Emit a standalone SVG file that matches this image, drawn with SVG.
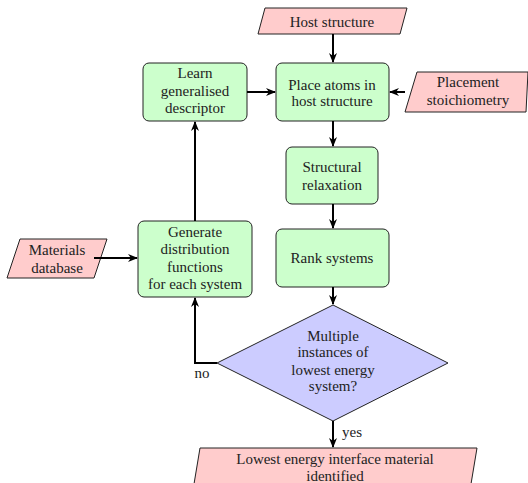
<svg xmlns="http://www.w3.org/2000/svg" width="528" height="483" viewBox="0 0 528 483" font-family="Liberation Serif, DejaVu Serif, serif">
<style>
.g{fill:#ccffcc;stroke:#222;stroke-width:1}
.r{fill:#ffcccc;stroke:#222;stroke-width:1}
.b{fill:#ccccff;stroke:#222;stroke-width:1}
text{font-size:15px;fill:#222;text-anchor:middle}
.c{fill:none;stroke:#000;stroke-width:2}
</style>
<defs>
<marker id="a" viewBox="0 0 10 10" refX="9" refY="5" markerWidth="5" markerHeight="5" orient="auto" markerUnits="strokeWidth">
<path d="M0,1 L10,5 L0,9 L3,5 Z" fill="#000"/>
</marker>
</defs>
<g id="host"><polygon class="r" points="265,8 407,8 400,34 258,34"/><text x="332" y="27">Host structure</text></g>
<g id="place"><rect class="g" x="276" y="63" width="113" height="58" rx="6"/><text x="332" y="90">Place atoms in</text><text x="332" y="106">host structure</text></g>
<g id="learn"><rect class="g" x="143" y="63" width="104" height="58" rx="6"/><text x="195" y="78">Learn</text><text x="195" y="96">generalised</text><text x="195" y="113">descriptor</text></g>
<g id="placement"><polygon class="r" points="417,72 528,72 526,112 405,112"/><text x="468" y="87">Placement</text><text x="468" y="105">stoichiometry</text></g>
<g id="relax"><rect class="g" x="286" y="147" width="92" height="57" rx="6"/><text x="332" y="172">Structural</text><text x="332" y="190">relaxation</text></g>
<g id="rank"><rect class="g" x="276" y="229" width="113" height="58" rx="6"/><text x="332" y="263">Rank systems</text></g>
<g id="generate"><rect class="g" x="138" y="221" width="114" height="76" rx="6"/><text x="195" y="237">Generate</text><text x="195" y="254">distribution</text><text x="195" y="272">functions</text><text x="195" y="289">for each system</text></g>
<g id="materials"><polygon class="r" points="20,239 107,239 94,278 7,278"/><text x="57" y="255">Materials</text><text x="57" y="273">database</text></g>
<g id="decision"><polygon class="b" points="333,305 448,363 333,421 217,363"/><text x="333" y="341">Multiple</text><text x="333" y="357">instances of</text><text x="333" y="375">lowest energy</text><text x="333" y="391">system?</text></g>
<g id="result"><polygon class="r" points="200,448 477,448 470,490 193,490"/><text x="335" y="464">Lowest energy interface material</text><text x="335" y="481">identified</text></g>
<g id="connectors">
<line class="c" x1="333" y1="34" x2="333" y2="62" marker-end="url(#a)"/>
<line class="c" x1="247" y1="92" x2="275" y2="92" marker-end="url(#a)"/>
<line class="c" x1="405" y1="92" x2="390" y2="92" marker-end="url(#a)"/>
<line class="c" x1="333" y1="121" x2="333" y2="146" marker-end="url(#a)"/>
<line class="c" x1="333" y1="204" x2="333" y2="228" marker-end="url(#a)"/>
<line class="c" x1="333" y1="287" x2="333" y2="304" marker-end="url(#a)"/>
<line class="c" x1="195" y1="221" x2="195" y2="122" marker-end="url(#a)"/>
<line class="c" x1="94" y1="258" x2="137" y2="258" marker-end="url(#a)"/>
<polyline class="c" points="217,363 195,363 195,298" marker-end="url(#a)"/>
<line class="c" x1="333" y1="421" x2="333" y2="447" marker-end="url(#a)"/>
<text x="202" y="378">no</text>
<text x="352" y="437">yes</text>
</g>
</svg>
